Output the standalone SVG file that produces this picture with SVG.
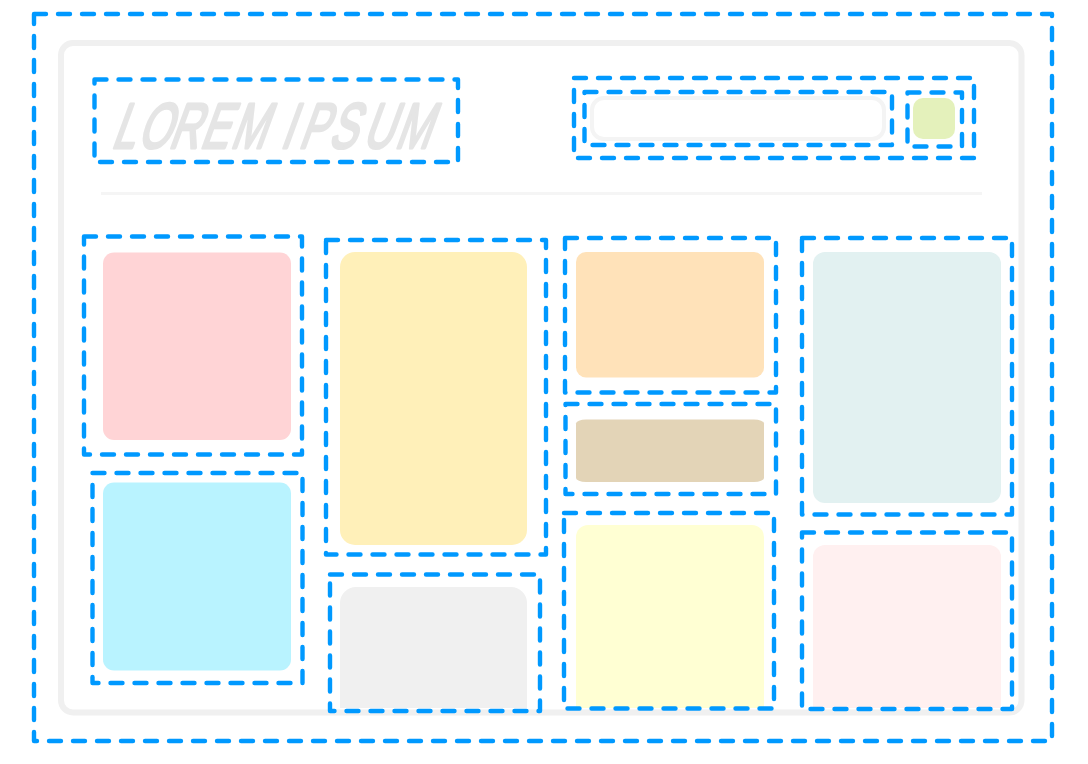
<svg xmlns="http://www.w3.org/2000/svg" width="1088" height="764" viewBox="0 0 1088 764">
<style>
.d{fill:none;stroke:#0099ff;stroke-width:4.4;stroke-dasharray:12 12;stroke-linecap:round;stroke-linejoin:round}
.logo{font-family:"Liberation Sans",Arial,sans-serif;font-size:64px;fill:#e5e5e5;stroke:#e5e5e5;stroke-width:3;stroke-linejoin:round}
</style>
<rect width="1088" height="764" fill="#ffffff"/>
<g id="frame"><rect x="61" y="43" width="960.5" height="669.5" rx="12" fill="#fff" stroke="#f0f0f0" stroke-width="6"/><rect x="101" y="192" width="881" height="3" fill="#f5f5f5"/></g>
<g id="logo"><text class="logo" transform="translate(0,148) skewX(-20) scale(0.65,1)" x="170 210 258 306 353 430 458 504 556 606" y="0">LOREMIPSUM</text></g>
<g id="search"><rect x="592" y="98" width="292" height="41" rx="12" fill="#fff" stroke="#f4f4f4" stroke-width="4"/></g>
<g id="button"><rect x="913" y="98" width="42" height="41" rx="10" fill="#e4f1bb"/></g>
<g id="cards">
<rect id="c1" x="103" y="252.5" width="188" height="187.5" rx="11" fill="#ffd4d6"/>
<rect id="c2" x="103" y="482.5" width="188" height="188" rx="11" fill="#b9f3ff"/>
<rect id="c3" x="340" y="252" width="187" height="293" rx="15" fill="#fff0b9"/>
<path id="c4" d="M340 708V603a16 16 0 0 1 16-16h155a16 16 0 0 1 16 16v105z" fill="#f0f0f0"/>
<rect id="c5" x="576" y="252" width="188" height="125.5" rx="10" fill="#ffe2b9"/>
<rect id="c6" x="576" y="419.5" width="188" height="62.5" rx="10" ry="4" fill="#e3d4b7"/>
<path id="c7" d="M576 708V537a12 12 0 0 1 12-12h164a12 12 0 0 1 12 12v171z" fill="#ffffd3"/>
<rect id="c8" x="813" y="252" width="188" height="251" rx="12" fill="#e2f1f1"/>
<path id="c9" d="M813 708V557a12 12 0 0 1 12-12h164a12 12 0 0 1 12 12v151z" fill="#fff0f0"/>
</g>
<g id="outlines">
<rect class="d" x="34" y="14" width="1018" height="727"/>
<rect class="d" x="94.5" y="79.5" width="363.5" height="82.5"/>
<rect class="d" x="574" y="78" width="400" height="80"/>
<rect class="d" x="584.5" y="92" width="307.5" height="53"/>
<rect class="d" x="907.5" y="92.5" width="54.5" height="54"/>
<rect class="d" x="84" y="236.5" width="218" height="218"/>
<rect class="d" x="92.5" y="473" width="210" height="210"/>
<rect class="d" x="326" y="240" width="220" height="314.5"/>
<rect class="d" x="330" y="574.5" width="210" height="136.5"/>
<rect class="d" x="565" y="238" width="211" height="154.5"/>
<rect class="d" x="565.5" y="404" width="210.5" height="90"/>
<rect class="d" x="564" y="513" width="210" height="195.5"/>
<rect class="d" x="802" y="238" width="210" height="276.5"/>
<rect class="d" x="802" y="532.5" width="210" height="176.5"/>
</g>
</svg>
